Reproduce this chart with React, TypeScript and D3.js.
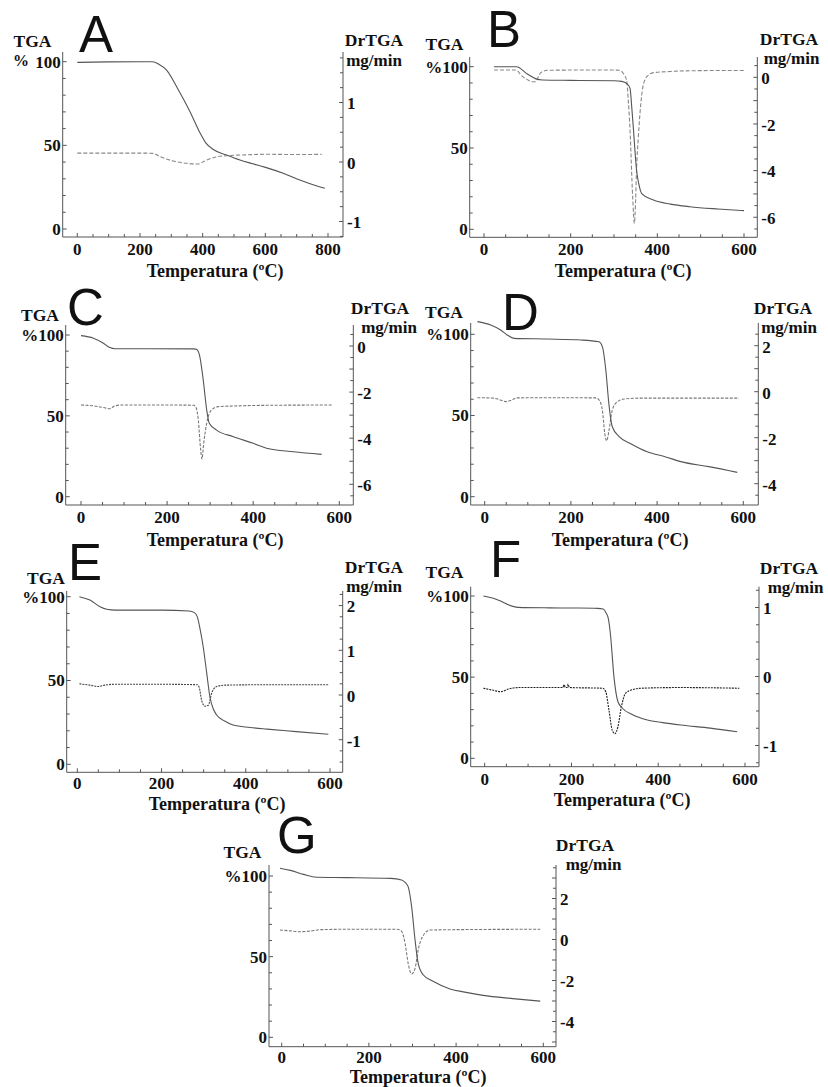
import React from "react";
import * as d3 from "d3";

// ---- data: [temperature ºC, value] ----
const tgaA = [[0, 99.6], [100, 99.9], [200, 100], [240, 100], [260, 98.5], [285, 95], [320, 84], [360, 70], [390, 58], [410, 51.5], [434, 47.5], [476, 44.2], [519, 41.2], [560, 39], [598, 37], [657, 33.3], [710, 29.3], [760, 26], [790, 24.3]];
const drA = [[0, 0.15], [100, 0.15], [200, 0.15], [242, 0.145], [264, 0.09], [306, 0.017], [349, -0.022], [386, -0.034], [402, 0.006], [434, 0.073], [476, 0.106], [540, 0.12], [604, 0.13], [700, 0.125], [780, 0.13]];

const tgaB = [[23, 100], [75, 100], [100, 95.5], [120, 92.5], [135, 91.8], [200, 91.6], [300, 91.4], [318, 91], [330, 89.5], [337, 86.7], [341, 75], [345, 61], [352, 36.5], [358, 27], [364, 22], [391, 18], [430, 15.5], [475, 13.9], [540, 12.5], [600, 11.5]];
const drB = [[23, 0.31], [75, 0.31], [85, 0.1], [100, -0.1], [110, -0.19], [119, -0.19], [125, 0], [131, 0.2], [146, 0.3], [200, 0.31], [300, 0.31], [314, 0.3], [322, 0.15], [329, -0.12], [333, -1], [337, -2.26], [343, -5.1], [347, -6.26], [350, -5.2], [352, -3.97], [356, -2.6], [360, -1.54], [365, -0.6], [371, -0.12], [380, 0.1], [391, 0.2], [430, 0.25], [475, 0.28], [540, 0.29], [600, 0.29]];

const tgaC = [[0, 99.6], [29, 98], [52, 94.9], [67, 92.2], [79, 91.5], [150, 91.5], [262, 91.4], [269, 91], [276, 86.6], [284, 72], [292, 53.6], [298, 45.4], [315, 41.2], [354, 37.1], [400, 33], [431, 30], [493, 27.8], [559, 26.2]];
const drC = [[0, -2.56], [30, -2.6], [55, -2.68], [67, -2.72], [78, -2.6], [95, -2.56], [200, -2.56], [262, -2.57], [268, -2.7], [272.5, -3.21], [278, -4.51], [281, -4.9], [285, -4.22], [292, -3.35], [303, -2.78], [319, -2.63], [360, -2.6], [450, -2.57], [586, -2.56]];

const tgaD = [[-17, 107.8], [14, 105.7], [37, 102.6], [52, 99.6], [68, 97.5], [145, 97.1], [223, 96.5], [265, 95.4], [273, 92.4], [281, 78], [288, 57.5], [296, 43.1], [312, 37], [340, 32.5], [377, 27.7], [420, 24.5], [455, 21.6], [520, 18.5], [586, 15]];
const drD = [[-17, -0.26], [20, -0.28], [40, -0.38], [49, -0.43], [60, -0.38], [75, -0.27], [150, -0.26], [258, -0.27], [265, -0.35], [273, -0.8], [278.5, -1.81], [283, -2.13], [288.5, -1.67], [296, -0.8], [308, -0.43], [323, -0.32], [360, -0.28], [450, -0.28], [590, -0.28]];

const tgaE = [[5, 100], [30, 98], [54, 94], [70, 92.5], [90, 92], [200, 92], [265, 91.5], [278, 90.5], [285, 88], [292, 80], [299, 70], [307, 55], [315, 40], [323, 33], [331, 29.4], [350, 25.8], [370, 23.4], [410, 22], [450, 21], [520, 19.5], [596, 17.9]];
const drE = [[5, 0.25], [30, 0.22], [50, 0.19], [65, 0.22], [90, 0.24], [200, 0.24], [285, 0.23], [290, 0.15], [295, -0.11], [303, -0.25], [311, -0.23], [319, 0.04], [331, 0.19], [350, 0.22], [450, 0.23], [596, 0.23]];

const tgaF = [[-3, 100], [20, 98.6], [35, 97], [51, 95], [77, 93], [150, 92.7], [204, 92.6], [260, 92.4], [273, 92], [279, 90], [285, 86], [290, 76], [298, 50], [307, 35], [317, 31], [340, 27], [375, 23.6], [410, 22], [452, 20.5], [520, 18.6], [582, 16.4]];
const drF = [[-3, -0.17], [20, -0.2], [37, -0.22], [55, -0.18], [80, -0.16], [150, -0.16], [180, -0.16], [183, -0.12], [186, -0.16], [190, -0.16], [192, -0.11], [195, -0.16], [272, -0.17], [279, -0.22], [286.5, -0.49], [294, -0.78], [300, -0.83], [307, -0.73], [315, -0.44], [325, -0.24], [336, -0.2], [360, -0.17], [450, -0.16], [587, -0.17]];

const tgaG = [[-4, 104.8], [20, 103.5], [50, 101], [80, 99.2], [150, 99], [250, 98.5], [275, 97.5], [283, 96], [290, 93.4], [298, 81], [306, 60], [313, 45.9], [325, 38.6], [345, 35], [386, 30], [420, 28], [462, 26], [530, 24], [593, 22.4]];
const drG = [[-4, 0.46], [20, 0.42], [40, 0.38], [60, 0.4], [90, 0.48], [150, 0.5], [265, 0.5], [275, 0.4], [283, -0.19], [290, -1.16], [298, -1.68], [306, -1.4], [313, -0.51], [323, 0.14], [340, 0.46], [400, 0.48], [593, 0.5]];

// tick labels
const xTicks800 = [0, 200, 400, 600, 800];
const xTicks600 = [0, 200, 400, 600];
const tgaTicks = [0, 50, 100];
const drTicksA = [-1, 0, 1];
const drTicksBC = [-6, -4, -2, 0];
const drTicksDG = [-4, -2, 0, 2];
const drTicksE = [-1, 0, 1, 2];
const drTicksF = [-1, 0, 1];

const SERIF = "'Liberation Serif', 'Times New Roman', serif";
const SANS = "'Liberation Sans', Arial, sans-serif";
const AXIS = "#555";

// layout of each panel (pixel frame + scale anchors)
const panels = [
  { letter: "A", lx: 79, ly: 52, frame: [62.7, 343, 52, 237], xa: [0, 77.3, 800, 328], yl: [229, 61.7], yr: [162, 59.5], xt: 18,
    xTicks: xTicks800, rTicks: drTicksA, rMinor: 0.25, tga: [32.5, 47], pct: [13, 66], dr: [374, 46], mg: [374, 66], title: [215, 277],
    tgaData: tgaA, drData: drA, drColor: "#888", drDash: "4 2" },
  { letter: "B", lx: 487, ly: 47, frame: [469.7, 757.3, 57, 237.3], xa: [0, 484, 600, 744], yl: [229.3, 66.7], yr: [77.3, 23.33], xt: 18,
    xTicks: xTicks600, rTicks: drTicksBC, rMinor: 0.5, tga: [444.5, 50], pct: null, dr: [789, 45], mg: [791.5, 64], title: [623, 277],
    tgaData: tgaB, drData: drB, drColor: "#888", drDash: "4 2" },
  { letter: "C", lx: 67, ly: 325, frame: [65.7, 353.3, 325, 505], xa: [0, 81, 600, 339.3], yl: [496.7, 335], yr: [346, 23.05], xt: 18,
    xTicks: xTicks600, rTicks: drTicksBC, rMinor: 0.5, tga: [40, 321], pct: null, dr: [380, 314], mg: [389, 333], title: [215, 546],
    tgaData: tgaC, drData: drC, drColor: "#777", drDash: "3 1.5" },
  { letter: "D", lx: 502, ly: 330, frame: [470.7, 758.3, 323, 505], xa: [0, 484.7, 600, 743.3], yl: [496.7, 334.3], yr: [391.7, 23], xt: 18,
    xTicks: xTicks600, rTicks: drTicksDG, rMinor: 0.5, tga: [444, 318], pct: null, dr: [783, 314], mg: [789, 333], title: [620, 546],
    tgaData: tgaD, drData: drD, drColor: "#777", drDash: "3 1.5" },
  { letter: "E", lx: 68, ly: 580, frame: [66.7, 342.7, 591, 772.3], xa: [0, 77.3, 600, 330], yl: [764.3, 596.7], yr: [695, 44.7], xt: 17,
    xTicks: xTicks600, rTicks: drTicksE, rMinor: 0.25, tga: [46, 584], pct: null, dr: [374, 573], mg: [374, 592], title: [217, 810],
    tgaData: tgaE, drData: drE, drColor: "#444", drDash: "2 1" },
  { letter: "F", lx: 490, ly: 577, frame: [470.7, 759, 586.7, 766.7], xa: [0, 484.7, 600, 745], yl: [758.3, 596], yr: [676.5, 69], xt: 18,
    xTicks: xTicks600, rTicks: drTicksF, rMinor: 0.25, tga: [444.5, 578], pct: null, dr: [789, 574], mg: [795.5, 593], title: [622, 806],
    tgaData: tgaF, drData: drF, drColor: "#222", drDash: "2 1" },
  { letter: "G", lx: 277, ly: 853, frame: [269, 556, 865, 1046.7], xa: [0, 281.7, 600, 543.3], yl: [1037.3, 876], yr: [939.5, 20.5], xt: 16,
    xTicks: xTicks600, rTicks: drTicksDG, rMinor: 0.5, tga: [242.5, 858], pct: null, dr: [585, 851], mg: [593.5, 870], title: [418, 1083],
    tgaData: tgaG, drData: drG, drColor: "#777", drDash: "3 1.5" },
];

function Panel({ p }: { p: any }) {
  const [xL, xR, yT, yB] = p.frame;
  const x = d3.scaleLinear().domain([p.xa[0], p.xa[2]]).range([p.xa[1], p.xa[3]]);
  const yl = d3.scaleLinear().domain([0, 100]).range(p.yl);
  const yr = d3.scaleLinear().domain([0, 1]).range([p.yr[0], p.yr[0] - p.yr[1]]);

  const xMinor = d3.range(Math.ceil(x.invert(xL) / 50) * 50, x.invert(xR), 50);
  const lMinor = d3.range(Math.ceil(yl.invert(yB) / 10) * 10, yl.invert(yT), 10);
  const rMinor = d3.range(Math.ceil(yr.invert(yB) / p.rMinor) * p.rMinor, yr.invert(yT), p.rMinor);

  const tgaLine = d3.line<number[]>().x(d => x(d[0])).y(d => yl(d[1])).curve(d3.curveMonotoneX);
  const drLine = d3.line<number[]>().x(d => x(d[0])).y(d => yr(d[1])).curve(d3.curveMonotoneX);

  const txt = { fontFamily: SERIF, fontWeight: 700, fill: "#111" } as any;

  return (
    <g>
      {/* curves */}
      <path d={drLine(p.drData) || ""} fill="none" stroke={p.drColor} strokeWidth={1.1} strokeDasharray={p.drDash} />
      <path d={tgaLine(p.tgaData) || ""} fill="none" stroke="#555" strokeWidth={1.1} />

      {/* axes */}
      <line x1={xL} x2={xL} y1={yT} y2={yB} stroke={AXIS} strokeWidth={1} />
      <line x1={xR} x2={xR} y1={yT} y2={yB} stroke={AXIS} strokeWidth={1} />
      <line x1={xL} x2={xR} y1={yB} y2={yB} stroke={AXIS} strokeWidth={1} />

      {xMinor.map(t => (
        <line key={"xm" + t} x1={x(t)} x2={x(t)} y1={yB} y2={yB - (t % 200 === 0 ? 4 : 3)} stroke={AXIS} />
      ))}
      {lMinor.map(v => (
        <line key={"lm" + v} x1={xL} x2={xL + (v % 50 === 0 ? 4 : 3)} y1={yl(v)} y2={yl(v)} stroke={AXIS} />
      ))}
      {rMinor.map(v => (
        <line key={"rm" + v} x1={xR} x2={xR - (Math.abs(v % 1) < 1e-6 ? 4 : 3)} y1={yr(v)} y2={yr(v)} stroke={AXIS} />
      ))}

      {/* tick labels */}
      {p.xTicks.map((t: number) => (
        <text key={"xt" + t} x={x(t)} y={yB + p.xt} textAnchor="middle" fontSize={17} {...txt}>{t}</text>
      ))}
      {tgaTicks.map(v => (
        <text key={"lt" + v} x={xL - 2} y={yl(v)} dy="0.35em" textAnchor="end" fontSize={17} {...txt}>
          {v === 100 && !p.pct ? "%100" : v}
        </text>
      ))}
      {p.rTicks.map((v: number) => (
        <text key={"rt" + v} x={xR + 4} y={yr(v)} dy="0.4em" textAnchor="start" fontSize={17} {...txt}>{v}</text>
      ))}

      {/* axis titles */}
      <text x={p.tga[0]} y={p.tga[1]} textAnchor="middle" fontSize={17.5} {...txt}>TGA</text>
      {p.pct && <text x={p.pct[0]} y={p.pct[1]} fontSize={16} {...txt}>%</text>}
      <text x={p.dr[0]} y={p.dr[1]} textAnchor="middle" fontSize={17.5} {...txt}>DrTGA</text>
      <text x={p.mg[0]} y={p.mg[1]} textAnchor="middle" fontSize={17} {...txt}>mg/min</text>
      <text x={p.title[0]} y={p.title[1]} textAnchor="middle" fontSize={18} {...txt}>Temperatura (ºC)</text>

      {/* panel letter */}
      <text x={p.lx} y={p.ly} fontFamily={SANS} fontSize={51} fill="#111">{p.letter}</text>
    </g>
  );
}

export default function App() {
  return (
    <svg width={828} height={1087} style={{ position: "absolute", left: 0, top: 0, background: "#fff" }}>
      <rect width={828} height={1087} fill="#fff" />
      {panels.map(p => <Panel key={p.letter} p={p} />)}
    </svg>
  );
}
